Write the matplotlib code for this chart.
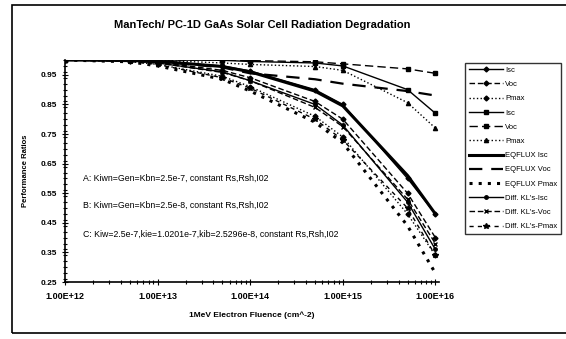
import numpy as np
import matplotlib
matplotlib.use("Agg")
import matplotlib.pyplot as plt
from matplotlib.ticker import FixedLocator, MultipleLocator, LogLocator, NullFormatter

plt.rcParams['font.family'] = ['Liberation Sans', 'DejaVu Sans']

fluence = [1e12, 5e12, 1e13, 5e13, 1e14, 5e14, 1e15, 5e15, 1e16]

# case A (lower group)
isc_a = [1.0, 1.0, 0.995, 0.98, 0.963, 0.90, 0.85, 0.60, 0.48]
voc_a = [1.0, 0.998, 0.993, 0.965, 0.94, 0.86, 0.80, 0.55, 0.40]
pmax_a = [1.0, 0.995, 0.985, 0.945, 0.91, 0.81, 0.74, 0.48, 0.34]
# case B (upper group)
isc_b = [1.0, 1.0, 1.0, 0.999, 0.995, 0.99, 0.98, 0.90, 0.82]
voc_b = [1.0, 1.0, 1.0, 1.0, 0.998, 0.994, 0.987, 0.97, 0.955]
pmax_b = [1.0, 1.0, 0.999, 0.99, 0.985, 0.978, 0.965, 0.856, 0.77]
# EQFLUX
eq_isc = [1.0, 0.999, 0.996, 0.978, 0.96, 0.895, 0.845, 0.61, 0.48]
eq_voc = [1.0, 0.999, 0.995, 0.975, 0.955, 0.935, 0.92, 0.895, 0.88]
eq_pmax = [1.0, 0.994, 0.98, 0.935, 0.895, 0.79, 0.72, 0.44, 0.28]
# Diff. KL's
kl_isc = [1.0, 0.997, 0.99, 0.96, 0.93, 0.85, 0.78, 0.52, 0.36]
kl_voc = [1.0, 0.997, 0.99, 0.958, 0.93, 0.84, 0.775, 0.53, 0.38]
kl_pmax = [1.0, 0.995, 0.985, 0.94, 0.905, 0.80, 0.73, 0.50, 0.34]

yticks = [0.25, 0.35, 0.45, 0.55, 0.65, 0.75, 0.85, 0.95]
ytick_labels = ['0.25', '0.35', '0.45', '0.55', '0.65', '0.75', '0.85', '0.95']
xticks = [1e12, 1e13, 1e14, 1e15, 1e16]
xtick_labels = ['1.00E+12', '1.00E+13', '1.00E+14', '1.00E+15', '1.00E+16']

notes = [
    'A: Kiwn=Gen=Kbn=2.5e-7, constant Rs,Rsh,I02',
    'B: Kiwn=Gen=Kbn=2.5e-8, constant Rs,Rsh,I02',
    'C: Kiw=2.5e-7,kie=1.0201e-7,kib=2.5296e-8, constant Rs,Rsh,I02',
]

fig = plt.figure(figsize=(5.66, 3.39), dpi=100)
ax = fig.add_axes([0.115, 0.168, 0.661, 0.655])

series = [
    (isc_a, dict(ls='-', marker='D', ms=2.5, lw=1.0), 'Isc'),
    (voc_a, dict(ls=(0, (4, 2)), marker='D', ms=2.5, lw=1.0), 'Voc'),
    (pmax_a, dict(ls=':', marker='D', ms=2.5, lw=1.0), 'Pmax'),
    (isc_b, dict(ls='-', marker='s', ms=3, lw=1.0), 'Isc'),
    (voc_b, dict(ls=(0, (6, 3)), marker='s', ms=3, lw=1.0), 'Voc'),
    (pmax_b, dict(ls=':', marker='^', ms=3, lw=1.0), 'Pmax'),
    (eq_isc, dict(ls='-', lw=2.2), 'EQFLUX Isc'),
    (eq_voc, dict(ls=(0, (6, 4)), lw=1.6), 'EQFLUX Voc'),
    (eq_pmax, dict(ls=(0, (1, 2)), lw=2.2), 'EQFLUX Pmax'),
    (kl_isc, dict(ls='-', marker='o', ms=2.5, lw=1.0), "Diff. KL's-Isc"),
    (kl_voc, dict(ls=(0, (4, 2)), marker='x', ms=3.5, lw=1.0), "Diff. KL's-Voc"),
    (kl_pmax, dict(ls=(0, (3, 3)), marker='*', ms=4, lw=1.0), "Diff. KL's-Pmax"),
]
for vals, style, label in series:
    ax.plot(fluence, vals, color='black', label=label, **style)

ax.set_xscale('log')
ax.set_xlim(1e12, 1.1e16)
ax.set_ylim(0.25, 1.0)
ax.xaxis.set_major_locator(FixedLocator(xticks))
ax.set_xticklabels(xtick_labels)
ax.xaxis.set_minor_locator(LogLocator(base=10, subs=np.arange(2, 10)))
ax.xaxis.set_minor_formatter(NullFormatter())
ax.yaxis.set_major_locator(FixedLocator(yticks))
ax.set_yticklabels(ytick_labels)
ax.yaxis.set_minor_locator(MultipleLocator(0.02))
ax.tick_params(which='both', direction='inout', width=0.8)
ax.tick_params(axis='x', labelsize=6.5, pad=5)
ax.tick_params(axis='y', labelsize=6)
ax.tick_params(which='major', length=5)
ax.tick_params(which='minor', length=3)
for lbl in ax.get_xticklabels() + ax.get_yticklabels():
    lbl.set_fontweight('bold')
ax.spines['top'].set_visible(False)
ax.spines['right'].set_visible(False)
ax.spines['left'].set_linewidth(1.2)
ax.spines['bottom'].set_linewidth(1.2)

ax.set_xlabel('1MeV Electron Fluence (cm^-2)', fontsize=6, fontweight='bold', labelpad=7)
ax.set_ylabel('Performance Ratios', fontsize=5.5, fontweight='bold', labelpad=8)

for note, ypos in zip(notes, [0.475, 0.395, 0.31]):
    fig.text(0.147, ypos, note, fontsize=6.3, va='center')

fig.text(0.463, 0.926, 'ManTech/ PC-1D GaAs Solar Cell Radiation Degradation',
         fontsize=8, fontweight='bold', ha='center', va='center')

leg = ax.legend(loc='upper left', bbox_to_anchor=(0.822, 0.815), bbox_transform=fig.transFigure,
                fontsize=5.5, frameon=True, fancybox=False, edgecolor='black',
                handlelength=4.5, handletextpad=0.2, labelspacing=0.9, borderpad=0.5,
                borderaxespad=0)
leg.get_frame().set_linewidth(1.0)

fig.add_artist(plt.Rectangle((0.021, 0.018), 1.0, 0.967, transform=fig.transFigure,
                             fill=False, edgecolor='black', linewidth=1.2))

fig.savefig('out.png', dpi=100)
